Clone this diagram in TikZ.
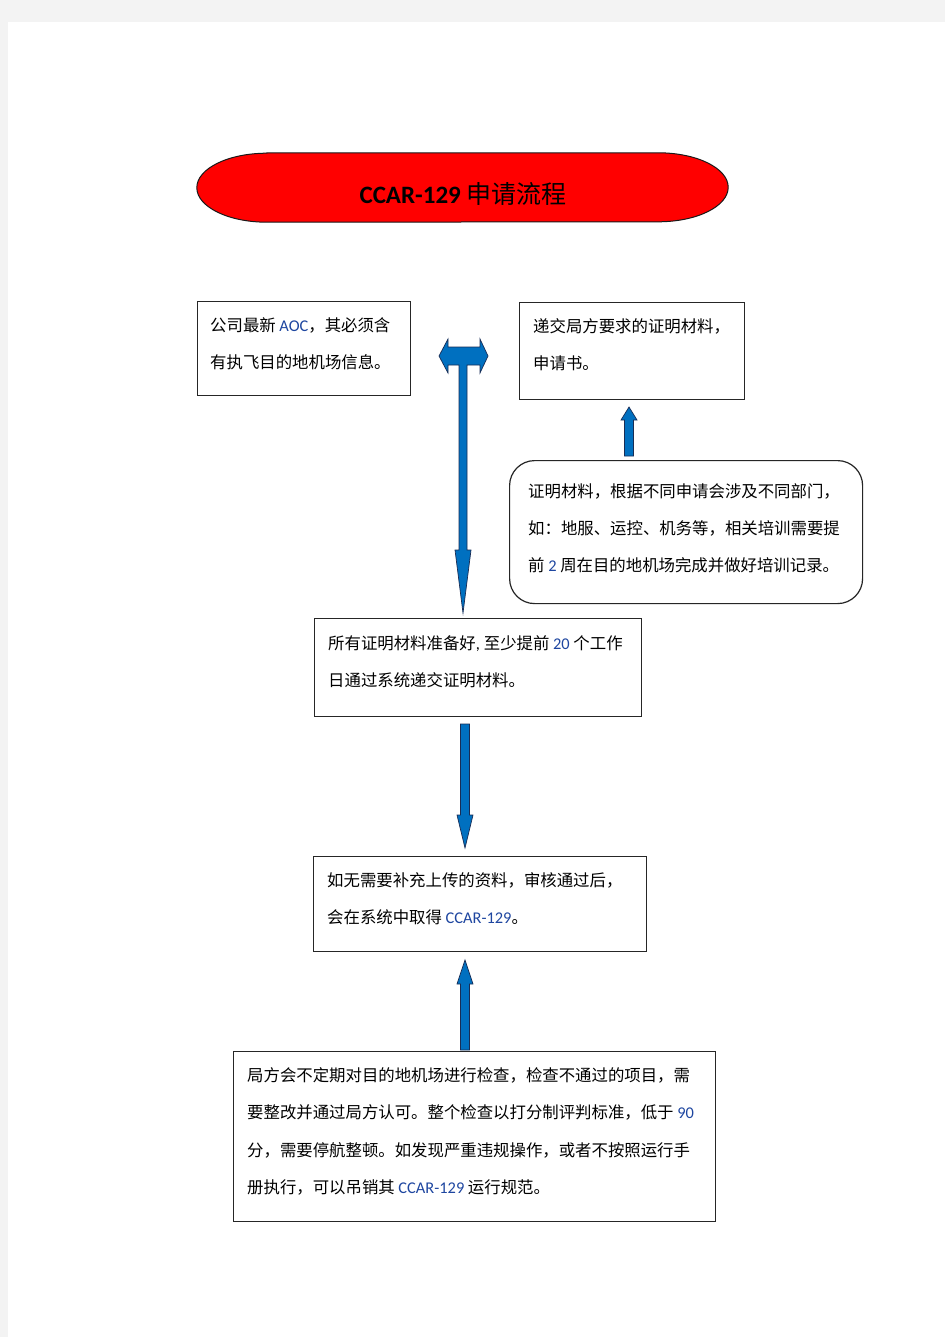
\documentclass[tikz,border=0pt]{standalone}
\usepackage{fontspec}
\setmainfont{Noto Sans CJK SC}
\newfontfamily\lat{Carlito}
\usetikzlibrary{calc}
\definecolor{pagegray}{RGB}{243,243,243}
\definecolor{arrblue}{RGB}{0,112,192}
\definecolor{arredge}{RGB}{25,45,85}
\definecolor{numblue}{RGB}{30,70,160}
\newcommand{\nb}[1]{{\lat\color{numblue}#1}}
\newcommand{\vblock}[3]{%
  \draw[blockarrow] let \p1=(#1), \p2=(#2), \p3=(#3) in
    (\x1-4.5pt,\y1) -- (\x1-4.5pt,\y2) -- (\x1-8pt,\y2) -- (\p3) --
    (\x1+8pt,\y2) -- (\x1+4.5pt,\y2) -- (\x1+4.5pt,\y1) -- cycle;}
\begin{document}
\begin{tikzpicture}[x=1pt,y=-1pt,
  box/.style={draw=black!85, line width=1.2pt, fill=white, anchor=north west, inner sep=0pt},
  roundbox/.style={box, rounded corners=25pt},
  txt/.style={anchor=base west, inner sep=0pt, font=\fontsize{16.4}{20}\selectfont},
  blockarrow/.style={fill=arrblue, draw=arredge, line width=0.7pt, line join=miter},
]
\useasboundingbox (0,0) rectangle (945,1337);
\fill[pagegray] (0,0) rectangle (945,1337);
\fill[white] (8,22) rectangle (945,1337);

% title
\node[minimum width=531pt, minimum height=69pt, inner sep=0pt] (title) at (462.5,187.5) {};
\draw[fill=red, draw=black!90, line width=1pt]
  ($(title.north west)+(70,0)$) -- ($(title.north east)+(-70,0)$)
  arc[start angle=-90, end angle=90, x radius=70, y radius=34.5]
  -- ($(title.south west)+(70,0)$)
  arc[start angle=90, end angle=270, x radius=70, y radius=34.5] -- cycle;
\node[anchor=base, inner sep=0pt, font=\fontsize{25}{30}\selectfont] (titletext) at (463,204)
  {{\lat\bfseries CCAR-129} 申请流程};

% boxes
\node[box, minimum width=213pt, minimum height=94pt] (b1) at (197,301) {};
\node[box, minimum width=225pt, minimum height=97pt] (b2) at (519,302) {};
\node[roundbox, minimum width=353pt, minimum height=143pt] (b3) at (509,460) {};
\node[box, minimum width=327pt, minimum height=98pt] (b4) at (314,618) {};
\node[box, minimum width=333pt, minimum height=95pt] (b5) at (313,856) {};
\node[box, minimum width=482pt, minimum height=170pt] (b6) at (233,1051) {};

% texts
\node[txt] (t1a) at (210,331) {公司最新 \nb{AOC}，其必须含};
\node[txt] (t1b) at (210,368) {有执飞目的地机场信息。};
\node[txt] (t2a) at (533,332) {递交局方要求的证明材料，};
\node[txt] (t2b) at (533,369) {申请书。};
\node[txt] (t3a) at (528,497) {证明材料，根据不同申请会涉及不同部门，};
\node[txt] (t3b) at (528,534) {如：地服、运控、机务等，相关培训需要提};
\node[txt] (t3c) at (528,571) {前 \nb{2} 周在目的地机场完成并做好培训记录。};
\node[txt] (t4a) at (328,649) {所有证明材料准备好{\lat,}\hspace{4pt}至少提前 \nb{20} 个工作};
\node[txt] (t4b) at (328,686) {日通过系统递交证明材料。};
\node[txt] (t5a) at (327,886) {如无需要补充上传的资料，审核通过后，};
\node[txt] (t5b) at (327,923) {会在系统中取得 \nb{CCAR-129}。};
\node[txt] (t6a) at (247,1081) {局方会不定期对目的地机场进行检查，检查不通过的项目，需};
\node[txt] (t6b) at (247,1118) {要整改并通过局方认可。整个检查以打分制评判标准，低于 \nb{90}};
\node[txt] (t6c) at (247,1156) {分，需要停航整顿。如发现严重违规操作，或者不按照运行手};
\node[txt] (t6d) at (247,1193) {册执行，可以吊销其 \nb{CCAR-129} 运行规范。};

% double arrow (left/right heads + down to box 4)
\coordinate (dc) at (463,356);
\coordinate (dtip) at ($(b4.north)!0!(b4.north)+(-14.5,-5)$);
\begin{scope}[shift={(dc)}]
\draw[blockarrow]
  (-24,0) -- (-15,-17) -- (-15,-9) -- (17,-9) -- (17,-17) -- (25,0) -- (17,17) -- (17,9)
  -- (4,9) -- (4,194) -- (8,194) -- (0,257) -- (-8,194) -- (-4,194) -- (-4,9)
  -- (-15,9) -- (-15,17) -- cycle;
\end{scope}

% arrow up to box 2
\coordinate (a2s) at (629,456);
\coordinate (a2b) at (629,420);
\coordinate (a2t) at (629,407);
\vblock{a2s}{a2b}{a2t}

% arrow box 4 -> box 5
\coordinate (a3s) at (465,724);
\coordinate (a3b) at (465,815);
\coordinate (a3t) at (465,848);
\vblock{a3s}{a3b}{a3t}

% arrow box 6 -> box 5
\coordinate (a4s) at (465,1050);
\coordinate (a4b) at (465,984);
\coordinate (a4t) at (465,960);
\vblock{a4s}{a4b}{a4t}
\end{tikzpicture}
\end{document}
